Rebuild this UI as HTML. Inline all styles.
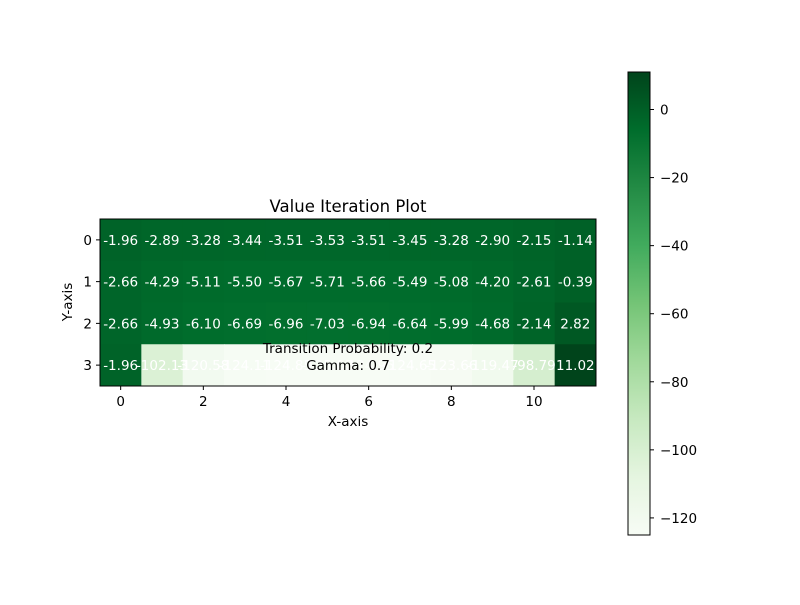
<!DOCTYPE html>
<html><head><meta charset="utf-8"><style>
body{margin:0;background:#fff;}
svg text{font-family:"DejaVu Sans","Liberation Sans",sans-serif;}
</style></head><body>
<svg id="chart" width="800" height="600" xmlns="http://www.w3.org/2000/svg">
<defs><linearGradient id="cbg" x1="0" y1="1" x2="0" y2="0">
<stop offset="0" stop-color="#f7fcf5"/><stop offset="0.125" stop-color="#e5f5e0"/><stop offset="0.25" stop-color="#c7e9c0"/><stop offset="0.375" stop-color="#a1d99b"/><stop offset="0.5" stop-color="#74c476"/><stop offset="0.625" stop-color="#41ab5d"/><stop offset="0.75" stop-color="#238b45"/><stop offset="0.875" stop-color="#006d2c"/><stop offset="1" stop-color="#00441b"/></linearGradient></defs>
<g id="cells"></g><g id="labels"></g>
<rect x="100" y="219" width="496" height="167" fill="none" stroke="#000" stroke-width="1"/>
<text x="348" y="212" font-size="16.5" text-anchor="middle">Value Iteration Plot</text>
<text x="348" y="426" font-size="13.5" text-anchor="middle">X-axis</text>
<text x="72" y="302" font-size="13.5" text-anchor="middle" transform="rotate(-90 72 302)">Y-axis</text>
<text x="348" y="353" font-size="13.5" text-anchor="middle">Transition Probability: 0.2</text>
<text x="348" y="370" font-size="13.5" text-anchor="middle">Gamma: 0.7</text>
<rect x="628" y="72" width="22" height="463" fill="url(#cbg)" stroke="#000" stroke-width="1"/>
<g id="axes"></g>
</svg>
<script>
const values = [
 [-1.96,-2.89,-3.28,-3.44,-3.51,-3.53,-3.51,-3.45,-3.28,-2.90,-2.15,-1.14],
 [-2.66,-4.29,-5.11,-5.50,-5.67,-5.71,-5.66,-5.49,-5.08,-4.20,-2.61,-0.39],
 [-2.66,-4.93,-6.10,-6.69,-6.96,-7.03,-6.94,-6.64,-5.99,-4.68,-2.14,2.82],
 [-1.96,-102.13,-120.58,-124.11,-124.85,-125.02,-124.95,-124.65,-123.66,-119.47,-98.79,11.02]
];
const xTicks=[0,2,4,6,8,10];
const yTicks=[0,1,2,3];
const cbTicks=[0,-20,-40,-60,-80,-100,-120];
const vmin=-125.02, vmax=11.02;
const stops=["#f7fcf5","#e5f5e0","#c7e9c0","#a1d99b","#74c476","#41ab5d","#238b45","#006d2c","#00441b"];
const NS="http://www.w3.org/2000/svg";
const x0=100,y0=219,cw=496/12,ch=167/4,cbTop=72,cbBot=535;
function hx(c){return x0+c*cw;}
function hy(r){return y0+r*ch;}
function cbY(v){return cbBot-(v-vmin)/(vmax-vmin)*(cbBot-cbTop);}
function color(v){let t=(v-vmin)/(vmax-vmin)*8;t=Math.max(0,Math.min(8,t));const i=Math.min(7,Math.floor(t)),f=t-i;
 const a=stops[i],b=stops[i+1];const p=s=>[1,3,5].map(k=>parseInt(s.substr(k,2),16));const A=p(a),B=p(b);
 return "rgb("+A.map((x,k)=>Math.round(x+(B[k]-x)*f)).join(",")+")";}
function mk(tag,attrs,parent){const e=document.createElementNS(NS,tag);for(const k in attrs)e.setAttribute(k,attrs[k]);parent.appendChild(e);return e;}
const cells=document.getElementById("cells"),labels=document.getElementById("labels"),axes=document.getElementById("axes");
values.forEach((row,r)=>row.forEach((v,c)=>{
 const rc=mk("rect",{x:hx(c),y:hy(r),width:cw+0.5,height:ch+0.5,fill:color(v)},cells);
 
 
 const t=mk("text",{x:hx(c+0.5),y:hy(r+0.5)+5,"font-size":13.5,"text-anchor":"middle",fill:"#fff"},labels);
 
 
 t.textContent=v.toFixed(2);
}));
xTicks.forEach(v=>{const x=hx(v+0.5);
 const l=mk("line",{x1:x,x2:x,y1:386,y2:390,stroke:"#000"},axes);
 
 
 const t=mk("text",{x:x,y:406,"font-size":13.5,"text-anchor":"middle"},axes);
 
 
 t.textContent=v;});
yTicks.forEach(v=>{const y=hy(v+0.5);
 const l=mk("line",{x1:96,x2:100,y1:y,y2:y,stroke:"#000"},axes);
 
 
 const t=mk("text",{x:92,y:y+5,"font-size":13.5,"text-anchor":"end"},axes);
 
 
 t.textContent=v;});
cbTicks.forEach(v=>{const y=cbY(v);
 const l=mk("line",{x1:650,x2:654,y1:y,y2:y,stroke:"#000"},axes);
 
 
 const t=mk("text",{x:660,y:y+5,"font-size":13.5},axes);
 
 
 t.textContent=v<0?"\u2212"+(-v):String(v);});
</script>
</body></html>
